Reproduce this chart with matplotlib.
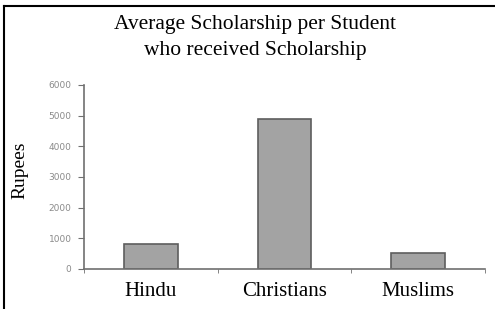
import matplotlib
matplotlib.use('Agg')
import matplotlib.pyplot as plt
from matplotlib.lines import Line2D

categories = ['Hindu', 'Christians', 'Muslims']
rupees = [820, 4880, 530]
yticks = [0, 1000, 2000, 3000, 4000, 5000, 6000]

serif = ['Liberation Serif', 'DejaVu Serif']

fig = plt.figure(figsize=(4.95, 3.09), dpi=100)
ax = fig.add_axes([84/495, 40/309, 401/495, 184/309])

x = range(len(categories))
ax.bar(x, rupees, width=0.4, color='#a3a3a3', edgecolor='#5e5e5e', linewidth=1.2)

ax.set_xlim(-0.5, 2.5)
ax.set_ylim(0, 6000)
ax.set_yticks(yticks)
ax.set_yticklabels([str(v) for v in yticks], fontsize=6.5, color='#8a8a8a')
ax.tick_params(axis='y', length=4, color='#707070', pad=5)

ax.set_xticks(list(x))
ax.set_xticklabels(categories, family=serif, fontsize=15)
ax.tick_params(axis='x', length=0, pad=9)
ax.set_xticks([-0.5, 0.5, 1.5, 2.5], minor=True)
ax.tick_params(axis='x', which='minor', length=3, color='#707070')

for s in ['top', 'right']:
    ax.spines[s].set_visible(False)
for s in ['left', 'bottom']:
    ax.spines[s].set_color('#707070')
    ax.spines[s].set_linewidth(1.2)

fig.text(20/495, 1 - 170/309, 'Rupees', family=serif, fontsize=14,
         rotation=90, ha='center', va='center')
fig.text(255/495, 1 - 25/309, 'Average Scholarship per Student',
         family=serif, fontsize=15.5, ha='center', va='center')
fig.text(255/495, 1 - 50/309, 'who received Scholarship',
         family=serif, fontsize=15.5, ha='center', va='center')

# outer frame (only top and left edges show in the crop)
fig.add_artist(Line2D([4/495, 4/495], [0, 1 - 6/309], color='black', lw=1.5,
                      transform=fig.transFigure))
fig.add_artist(Line2D([4/495, 1], [1 - 6/309, 1 - 6/309], color='black', lw=1.5,
                      transform=fig.transFigure))

fig.savefig('out.png', dpi=100)
